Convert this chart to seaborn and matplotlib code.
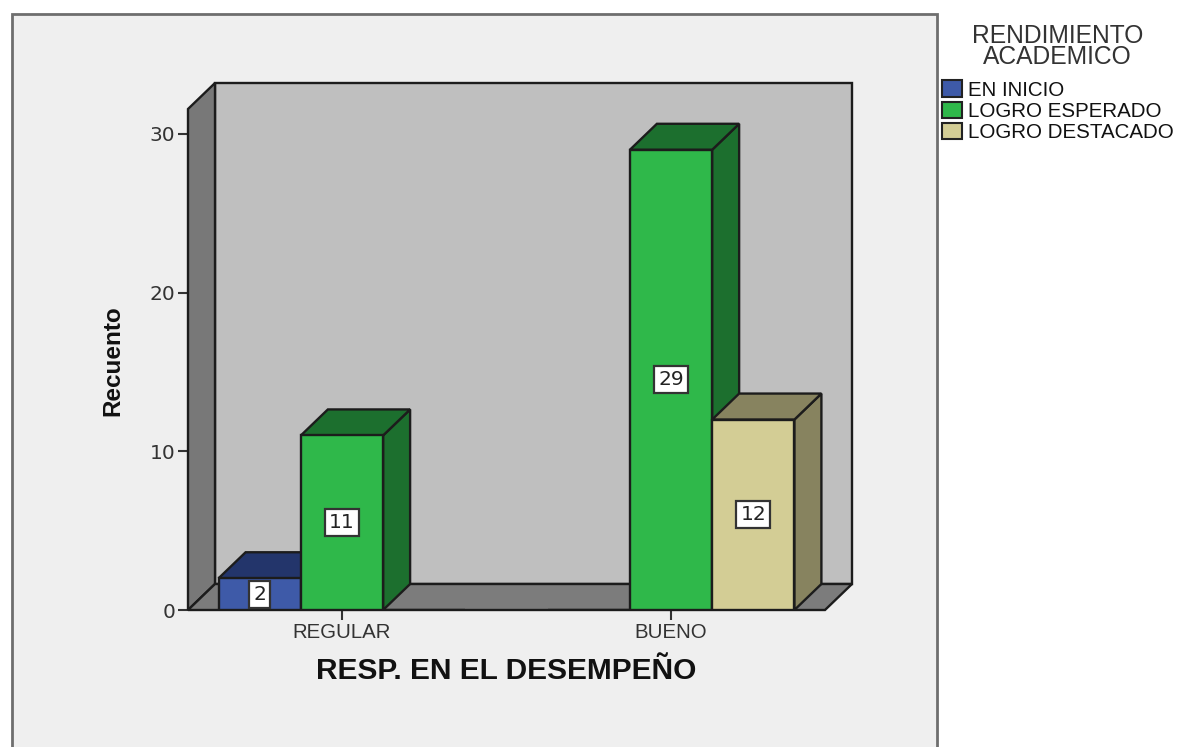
import matplotlib
matplotlib.use("Agg")
import matplotlib.pyplot as plt
import pandas as pd
import seaborn as sns
from matplotlib.patches import Patch, Polygon, Rectangle
from matplotlib.transforms import IdentityTransform

sns.set_style("ticks")
plt.rcParams["font.family"] = ["Liberation Sans", "DejaVu Sans"]

# data
categories = ["REGULAR", "BUENO"]
groups = ["EN INICIO", "LOGRO ESPERADO", "LOGRO DESTACADO"]
en_inicio = [2, 0]
logro_esperado = [11, 29]
logro_destacado = [0, 12]

colors = ["#3e5aa8", "#2fb84a", "#d3cd95"]
dark_colors = ["#23356b", "#1c6f2e", "#87835f"]
edge = "#1c1c1c"
W, H = 1179, 747
dx, dy = 27, 26  # depth of the fake 3d, pixels

df = pd.DataFrame({
    "resp": categories * 3,
    "grupo": [g for g in groups for _ in categories],
    "recuento": en_inicio + logro_esperado + logro_destacado,
})

fig = plt.figure(figsize=(W / 100, H / 100), dpi=100, facecolor="white")
fig.add_artist(Rectangle((12 / W, -0.02), 925 / W, 1.02 - 14 / H, transform=fig.transFigure,
                         facecolor="#efefef", edgecolor="#6e6e6e", linewidth=2, zorder=-1))

ax = fig.add_axes([188 / W, 1 - 610 / H, 637 / W, 501 / H])
sns.barplot(data=df, x="resp", y="recuento", hue="grupo", order=categories, hue_order=groups,
            palette=colors, saturation=1, width=0.75, gap=0, legend=False, ax=ax,
            edgecolor=edge, linewidth=1.7)
ax.patch.set_visible(False)
ax.set_xlim(-0.468, 1.468)
ax.set_ylim(0, 31.57)
sns.despine(ax=ax, left=True, bottom=True)

# walls and floor of the box
x0, x1 = ax.transData.transform([(-0.468, 0), (1.468, 0)])[:, 0]
y0, y1 = ax.transData.transform([(0, 0), (0, 31.57)])[:, 1]


def box_part(points, color, z):
    ax.add_patch(Polygon(points, closed=True, transform=IdentityTransform(), facecolor=color,
                         edgecolor=edge, linewidth=1.7, zorder=z, clip_on=False))


box_part([(x0 + dx, y0 + dy), (x1 + dx, y0 + dy), (x1 + dx, y1 + dy), (x0 + dx, y1 + dy)], "#bfbfbf", 0.5)
box_part([(x0, y0), (x0 + dx, y0 + dy), (x0 + dx, y1 + dy), (x0, y1)], "#787878", 0.6)
box_part([(x0, y0), (x1, y0), (x1 + dx, y0 + dy), (x0 + dx, y0 + dy)], "#7c7c7c", 0.6)

# side and top of every bar, left to right so the next bar covers the previous one
bars = []
for i, cont in enumerate(ax.containers):
    for bar in cont:
        if bar.get_height() > 0:
            bars.append((bar.get_x(), i, bar))
bars.sort(key=lambda b: b[0])
for n, (_, i, bar) in enumerate(bars):
    z = 2 + n
    (xa, ya), (xb, yb) = ax.transData.transform([(bar.get_x(), 0),
                                                 (bar.get_x() + bar.get_width(), bar.get_height())])
    box_part([(xb, ya), (xb + dx, ya + dy), (xb + dx, yb + dy), (xb, yb)], dark_colors[i], z)
    box_part([(xa, yb), (xb, yb), (xb + dx, yb + dy), (xa + dx, yb + dy)], dark_colors[i], z)
    bar.set_zorder(z + 0.5)

# value labels
for cont in ax.containers:
    labels = [str(int(b.get_height())) if b.get_height() > 0 else "" for b in cont]
    ax.bar_label(cont, labels=labels, label_type="center", fontsize=14.5, color="#222222", zorder=30,
                 family="DejaVu Sans",
                 bbox=dict(boxstyle="square,pad=0.2", facecolor="white", edgecolor="#333333", linewidth=1.6))

ax.set_yticks([0, 10, 20, 30])
ax.tick_params(axis="y", length=7, width=1.5, color="#333333", labelsize=14.5, labelcolor="#333333", pad=2)
ax.tick_params(axis="x", length=7, width=1.5, color="#333333", labelsize=14.7, labelcolor="#333333", pad=2.5)
for t in ax.get_yticklabels():
    t.set_family("DejaVu Sans")
ax.set_ylabel("Recuento", fontsize=17.5, fontweight="bold", color="#111111", labelpad=18, y=0.498)
ax.set_xlabel("RESP. EN EL DESEMPEÑO", fontsize=21.5, fontweight="bold", color="#111111", labelpad=11)

handles = [Patch(facecolor=c, edgecolor="#222222", linewidth=1.5) for c in colors]
leg = ax.legend(handles, groups, title="RENDIMIENTO\nACADEMICO", loc="upper left",
                bbox_to_anchor=(942 / W, 1 - 24 / H), bbox_transform=fig.transFigure, frameon=False,
                fontsize=14.8, title_fontsize=17.7, borderpad=0, borderaxespad=0, labelspacing=0.1,
                handlelength=0.95, handleheight=0.85, handletextpad=0.3)
leg.get_title().set_color("#333333")
leg.get_title().set_multialignment("center")
leg.get_title().set_linespacing(0.85)
leg._legend_box.sep = 8
for t in leg.get_texts():
    t.set_color("#111111")

plt.savefig("out.png", dpi=100)
